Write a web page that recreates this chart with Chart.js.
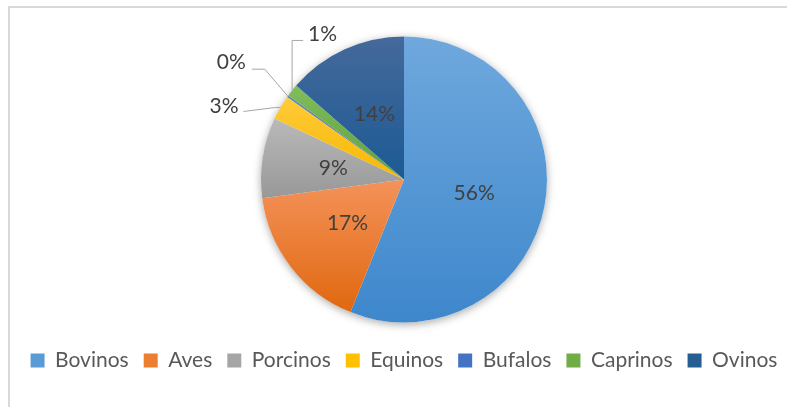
<!DOCTYPE html>
<html>
<head>
<meta charset="utf-8">
<script src="https://cdn.jsdelivr.net/npm/chart.js@4.4.0/dist/chart.umd.min.js"></script>
<style>
    html, body { margin: 0; padding: 0; background: #fff; overflow: hidden; }
    #wrap { position: relative; width: 787px; height: 407px; overflow: hidden; }
    #frame { position: absolute; left: 8px; top: 6px; width: 820px; height: 430px;
             border-left: 2px solid #d9d9d9; border-top: 2px solid #d9d9d9; }
    #box { position: absolute; left: 0; top: 0; width: 830px; height: 407px; }
</style>
</head>
<body>
<div id="wrap">
    <div id="frame"></div>
    <div id="box"><canvas id="chart-especies"></canvas></div>
</div>
<script>
const categories = ['Bovinos', 'Aves', 'Porcinos', 'Equinos', 'Bufalos', 'Caprinos', 'Ovinos'];
const shares = [56.1, 16.8, 9.1, 2.8, 0.2, 1.4, 13.6];

const baseColors = ['#5B9BD5', '#ED7D31', '#A5A5A5', '#FFC000', '#4472C4', '#70AD47', '#255E91'];
const lightColors = ['#6FA8DD', '#F4925A', '#B9B9B9', '#FFCB3A', '#5580CC', '#80BD5C', '#45699B'];
const darkColors = ['#3E87CC', '#E0680F', '#989898', '#F5B800', '#3A66B8', '#5F9F3A', '#1C5A94'];

// petits secteurs : étiquette à l'extérieur avec ligne de rappel (décalages en px depuis le bord)
const callouts = {
    3: { elbow: [-5, 0], end: [-37, 4], text: [-42, -1], align: 'right' },
    4: { elbow: [-23, -27], end: [-36, -27], text: [-42, -34], align: 'right' },
    5: { elbow: [0, -50], end: [11, -50], text: [16, -56], align: 'left' },
};

const total = shares.reduce(function (a, b) { return a + b; }, 0);

function pct(i) {
    return Math.round((shares[i] / total) * 100) + '%';
}

// boîte verticale du secteur, pour le dégradé
function sliceBox(chart, index) {
    const area = chart.chartArea;
    const cy = (area.top + area.bottom) / 2;
    const r = 143;
    let start = -Math.PI / 2;
    for (let i = 0; i < index; i++) {
        start += (shares[i] / total) * 2 * Math.PI;
    }
    const end = start + (shares[index] / total) * 2 * Math.PI;
    const ys = [cy, cy + Math.sin(start) * r, cy + Math.sin(end) * r];
    [-Math.PI / 2, Math.PI / 2, 3 * Math.PI / 2].forEach(function (a) {
        if (a >= start && a <= end) ys.push(cy + Math.sin(a) * r);
    });
    return { top: Math.min.apply(null, ys), bottom: Math.max.apply(null, ys) };
}

const pieShadow = {
    id: 'pieShadow',
    beforeDatasetsDraw(chart) {
        const arc = chart.getDatasetMeta(0).data[0];
        if (!arc) return;
        const ctx = chart.ctx;
        ctx.save();
        ctx.shadowColor = 'rgba(0,0,0,0.35)';
        ctx.shadowBlur = 9;
        ctx.shadowOffsetY = 2;
        ctx.fillStyle = '#ffffff';
        ctx.beginPath();
        ctx.arc(arc.x, arc.y, arc.outerRadius, 0, 2 * Math.PI);
        ctx.fill();
        ctx.restore();
    },
};

const sliceLabels = {
    id: 'sliceLabels',
    afterDatasetsDraw(chart) {
        const ctx = chart.ctx;
        const meta = chart.getDatasetMeta(0);
        ctx.save();
        ctx.font = "21px Lato, 'Open Sans', sans-serif";
        ctx.fillStyle = '#404040';
        ctx.textBaseline = 'middle';
        meta.data.forEach(function (arc, i) {
            const text = pct(i);
            const c = callouts[i];
            if (!c) {
                const p = arc.getCenterPoint();
                ctx.textAlign = 'center';
                ctx.fillText(text, p.x, p.y);
                return;
            }
            const mid = (arc.startAngle + arc.endAngle) / 2;
            const ax = arc.x + Math.cos(mid) * arc.outerRadius;
            const ay = arc.y + Math.sin(mid) * arc.outerRadius;
            ctx.strokeStyle = '#A6A6A6';
            ctx.lineWidth = 1;
            ctx.beginPath();
            ctx.moveTo(ax, ay);
            ctx.lineTo(ax + c.elbow[0], ay + c.elbow[1]);
            ctx.lineTo(ax + c.end[0], ay + c.end[1]);
            ctx.stroke();
            ctx.textAlign = c.align;
            ctx.fillText(text, ax + c.text[0], ay + c.text[1]);
        });
        ctx.restore();
    },
};

new Chart(document.getElementById('chart-especies'), {
    type: 'pie',
    data: {
        labels: categories,
        datasets: [
            {
                data: shares,
                radius: 143,
                borderWidth: 0,
                backgroundColor(c) {
                    const chart = c.chart;
                    const i = c.dataIndex;
                    if (!chart.chartArea || i === undefined) return baseColors[i];
                    const b = sliceBox(chart, i);
                    const g = chart.ctx.createLinearGradient(0, b.top, 0, b.bottom);
                    g.addColorStop(0, lightColors[i]);
                    g.addColorStop(1, darkColors[i]);
                    return g;
                },
            },
        ],
    },
    options: {
        responsive: true,
        maintainAspectRatio: false,
        animation: false,
        layout: { padding: { top: 24, bottom: 26, left: 0, right: 22 } },
        plugins: {
            tooltip: { enabled: false },
            legend: {
                position: 'bottom',
                labels: {
                    boxWidth: 14,
                    boxHeight: 14,
                    padding: 15,
                    color: '#595959',
                    font: { family: "Lato, 'Open Sans', sans-serif", size: 21 },
                    generateLabels(chart) {
                        return categories.map(function (name, i) {
                            return {
                                text: name,
                                fillStyle: baseColors[i],
                                strokeStyle: baseColors[i],
                                lineWidth: 0,
                                fontColor: '#595959',
                                hidden: false,
                                index: i,
                            };
                        });
                    },
                },
            },
        },
    },
    plugins: [pieShadow, sliceLabels],
});
</script>
</body>
</html>
